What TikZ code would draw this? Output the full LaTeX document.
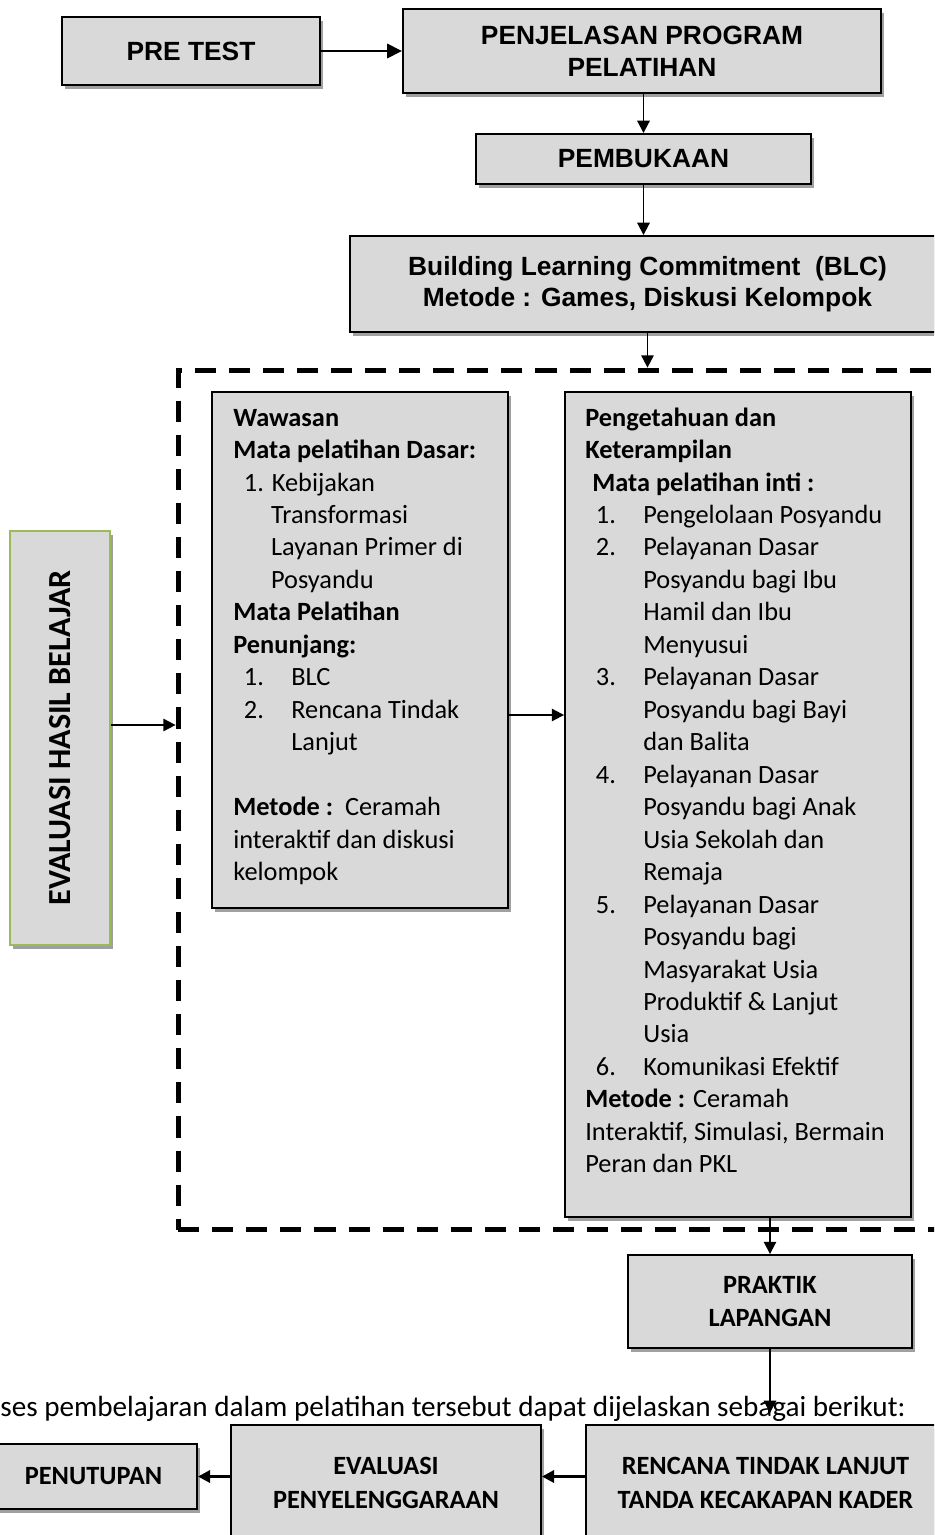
\documentclass[tikz,border=0pt]{standalone}
\usepackage{fontspec}
\setmainfont{Carlito}
\newfontfamily\arialfont{Liberation Sans}
\usetikzlibrary{arrows.meta, positioning, shadows}

\definecolor{boxgray}{HTML}{D9D9D9}
\definecolor{shadegray}{HTML}{A0A0A0}
\definecolor{olivegreen}{HTML}{9BBB59}

\newcommand{\listnum}[1]{\hspace*{6pt}\makebox[27pt][l]{#1}}
\newcommand{\listcont}{\hspace*{33pt}}

\tikzset{
    box/.style={draw=black, line width=1.1pt, fill=boxgray, inner sep=0pt, align=center,
        drop shadow={shadow xshift=1.5pt, shadow yshift=-2.2pt, fill=shadegray, opacity=1}},
    topbox/.style={box, font=\arialfont\bfseries\fontsize{15}{18}\selectfont},
    lowbox/.style={box, font=\bfseries\fontsize{15}{19.3}\selectfont},
    txt/.style={anchor=north west, inner sep=0pt, align=left, font=\fontsize{15}{18.48}\selectfont},
    arr/.style={-{Triangle[length=7pt,width=7pt]}, line width=1.1pt},
    bigarr/.style={-{Triangle[length=8.5pt,width=8pt]}, line width=1.7pt},
    frame/.style={draw=black, line width=2.8pt, dash pattern=on 12pt off 7.4pt, inner sep=0pt},
}

\begin{document}
\begin{tikzpicture}[x=0.02cm, y=-0.02cm]
        \clip (0,0) rectangle (934,1535);

        \node[topbox, minimum width=5.16cm, minimum height=1.36cm] (pre) at (191,51) {PRE TEST};
        \node[topbox, minimum width=9.56cm, minimum height=1.68cm] (penj) at (642,51) {PENJELASAN PROGRAM\\PELATIHAN};
        \node[topbox, minimum width=6.7cm, minimum height=1cm] (buka) at (643.5,159) {PEMBUKAAN};
        \node[topbox, minimum width=11.9cm, minimum height=1.92cm] (blc) at (647.5,284) {Building Learning Commitment~~(BLC)\\Metode : Games, Diskusi Kelompok};

        \node[frame, minimum width=15.64cm, minimum height=17.2cm] (grp) at (569,800) {};

        \node[box, minimum width=5.92cm, minimum height=10.32cm] (dasar) at (360,650) {};
        \node[txt] (dasar-txt) at (233,403) {\strut\textbf{Wawasan}\\
            \textbf{Mata pelatihan Dasar:}\\
            \hspace*{6pt}1. Kebijakan\\
            \hspace*{21.5pt}Transformasi\\
            \hspace*{21.5pt}Layanan Primer di\\
            \hspace*{21.5pt}Posyandu\\
            \textbf{Mata Pelatihan}\\
            \textbf{Penunjang:}\\
            \listnum{1.}BLC\\
            \listnum{2.}Rencana Tindak\\
            \listcont Lanjut\\[18.48pt]
            \textbf{Metode :}~~Ceramah\\
            interaktif dan diskusi\\
            kelompok};

        \node[box, minimum width=6.92cm, minimum height=16.5cm] (inti) at (738,804.5) {};
        \node[txt] (inti-txt) at (585,403) {\strut\textbf{Pengetahuan dan}\\
            \textbf{Keterampilan}\\
            \hspace*{4pt}\textbf{Mata pelatihan inti :}\\
            \listnum{1.}Pengelolaan Posyandu\\
            \listnum{2.}Pelayanan Dasar\\
            \listcont Posyandu bagi Ibu\\
            \listcont Hamil dan Ibu\\
            \listcont Menyusui\\
            \listnum{3.}Pelayanan Dasar\\
            \listcont Posyandu bagi Bayi\\
            \listcont dan Balita\\
            \listnum{4.}Pelayanan Dasar\\
            \listcont Posyandu bagi Anak\\
            \listcont Usia Sekolah dan\\
            \listcont Remaja\\
            \listnum{5.}Pelayanan Dasar\\
            \listcont Posyandu bagi\\
            \listcont Masyarakat Usia\\
            \listcont Produktif \& Lanjut\\
            \listcont Usia\\
            \listnum{6.}Komunikasi Efektif\\
            \textbf{Metode :} Ceramah\\
            Interaktif, Simulasi, Bermain\\
            Peran dan PKL};

        \node[box, draw=olivegreen, minimum width=2cm, minimum height=8.28cm] (evb) at (60,738) {};
        \node[rotate=90, font=\bfseries\fontsize{18.3}{22}\selectfont] (evb-txt) at (evb) {EVALUASI HASIL BELAJAR};

        \node[lowbox, minimum width=5.68cm, minimum height=1.86cm] (prak) at (770,1301.5) {PRAKTIK\\LAPANGAN};

        \node[anchor=base west, inner sep=0pt, font=\fontsize{16.6}{20}\selectfont] (ket) at (0,1416) {ses pembelajaran dalam pelatihan tersebut dapat dijelaskan sebagai berikut:};

        \node[lowbox, minimum width=7.18cm, minimum height=2.32cm] (rtl) at (765.5,1483) {RENCANA TINDAK LANJUT\\TANDA KECAKAPAN KADER};
        \node[lowbox, minimum width=6.2cm, minimum height=2.32cm] (evpen) at (386,1483) {EVALUASI\\PENYELENGGARAAN};
        \node[lowbox, minimum width=4.14cm, minimum height=1.3cm] (tutup) at (93.5,1476.5) {PENUTUPAN};
        \coordinate (rtl-in) at (770,1413);

        \path[bigarr] (pre.east) edge (pre.east -| penj.west);
        \path[arr] (buka.north |- penj.south) edge (buka.north);
        \path[arr] (buka.south) edge (buka.south |- blc.north);
        \path[arr] (blc.south) edge (blc.south |- grp.north);
        \path[arr] ([yshift=0.26cm]evb.east) edge ([yshift=0.26cm]evb.east -| grp.west);
        \path[arr] ([yshift=-1.3cm]dasar.east) edge ([yshift=-1.3cm]dasar.east -| inti.west);
        \path[arr] (prak.north |- inti.south) edge (prak.north);
        \path[arr] (prak.south) edge (rtl-in);
        \path[arr, line width=1.7pt] (rtl.west |- tutup.east) edge (evpen.east |- tutup.east);
        \path[arr, line width=1.7pt] (evpen.west |- tutup.east) edge (tutup.east);

    \end{tikzpicture}
\end{document}
